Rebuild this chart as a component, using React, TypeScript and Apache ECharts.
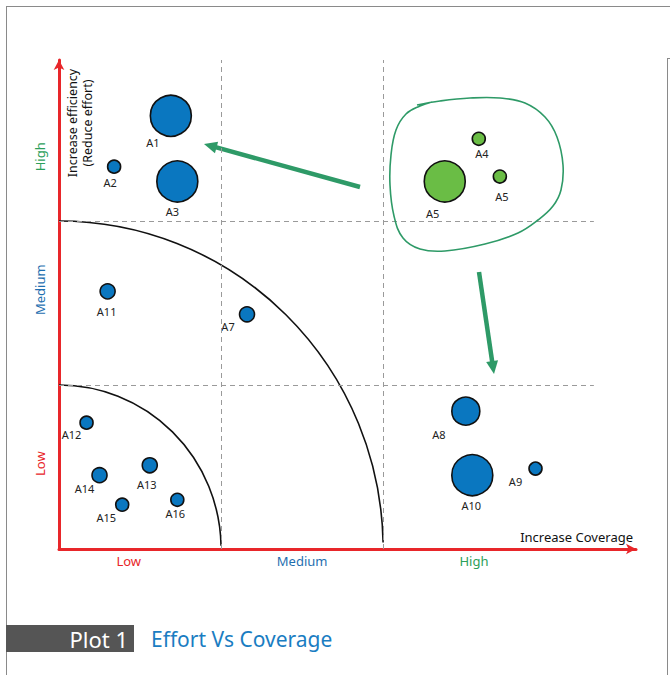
import React, { useEffect, useRef } from "react";
import * as echarts from "echarts";

// ---- data ----
const blueNames = ["A1", "A2", "A3", "A11", "A7", "A12", "A14", "A13", "A15", "A16", "A8", "A10", "A9"];
const blueCoverage = [0.69, 0.34, 0.73, 0.3, 1.16, 0.17, 0.25, 0.56, 0.39, 0.73, 2.51, 2.55, 2.94];
const blueEfficiency = [2.64, 2.33, 2.24, 1.57, 1.43, 0.77, 0.45, 0.51, 0.27, 0.3, 0.84, 0.45, 0.49];
const blueSize = [41, 13, 41, 15, 15, 13, 15, 15, 13, 13, 28, 41, 13];

const greenNames = ["A4", "A5", "A5"];
const greenCoverage = [2.59, 2.72, 2.38];
const greenEfficiency = [2.5, 2.27, 2.24];
const greenSize = [13, 13, 41];

const arcRadii = [1, 2];
const xBandLabels = ["Low", "Medium", "High"];
const xBandPos = [0.43, 1.5, 2.56];
const yBandLabels = ["High", "Medium", "Low"];
const yBandPos = [2.39, 1.58, 0.52];
const bandColors: Record<string, string> = { Low: "#e8262a", Medium: "#1f6fb0", High: "#2ca05a" };

// label offsets (layout only)
const blueLabelOffsets = [[-18, 27], [-4, 16], [-5, 30], [-1, 20], [-19, 12], [-15, 12], [-15, 13], [-3, 19], [-16, 13], [-2, 14], [-27, 23], [-1, 30], [-20, 13]];
const greenLabelOffsets = [[3, 15], [2, 20], [-12, 32]];

const FONT = "'Noto Sans', 'Open Sans', sans-serif";
const ARROW_GREEN = "#2e9a67";

function arrow(x1: number, y1: number, x2: number, y2: number) {
  const dx = x2 - x1, dy = y2 - y1;
  const len = Math.sqrt(dx * dx + dy * dy);
  const ux = dx / len, uy = dy / len;
  const hl = 13, hw = 6;
  const bx = x2 - ux * hl, by = y2 - uy * hl;
  const px = -uy * hw, py = ux * hw;
  return [
    { type: "line", silent: true, shape: { x1, y1, x2: bx + ux * 2, y2: by + uy * 2 }, style: { stroke: ARROW_GREEN, lineWidth: 4.5 } },
    { type: "polygon", silent: true, shape: { points: [[x2, y2], [bx + px, by + py], [bx - px, by - py]] }, style: { fill: ARROW_GREEN } },
  ];
}

function makeItems(names: string[], xs: number[], ys: number[], sizes: number[], offs: number[][]) {
  return names.map((n, i) => ({
    name: n,
    value: [xs[i], ys[i], sizes[i]],
    label: { offset: offs[i] },
  }));
}

export default function App() {
  const ref = useRef<HTMLDivElement>(null);
  useEffect(() => {
    if (!ref.current) return;
    const chart = echarts.init(ref.current, null, { renderer: "svg" });
    const labelCfg = {
      show: true,
      position: "inside",
      formatter: "{b}",
      color: "#222",
      fontSize: 11,
      fontFamily: FONT,
    };
    const option: any = {
      animation: false,
      grid: { left: 59, top: 60, width: 577, height: 489 },
      xAxis: {
        type: "value", min: 0, max: 3.56,
        axisLine: { show: true, onZero: false, symbol: ["none", "arrow"], symbolSize: [8, 10], lineStyle: { color: "#e8262a", width: 3 } },
        axisTick: { show: false }, axisLabel: { show: false }, splitLine: { show: false },
      },
      yAxis: {
        type: "value", min: 0, max: 2.98,
        axisLine: { show: true, onZero: false, symbol: ["none", "arrow"], symbolSize: [8, 10], lineStyle: { color: "#e8262a", width: 3 } },
        axisTick: { show: false }, axisLabel: { show: false }, splitLine: { show: false },
      },
      series: [
        {
          type: "custom",
          silent: true,
          clip: false,
          data: arcRadii.map((r) => [r, 0]),
          renderItem: (params: any, api: any) => {
            const r = api.value(0);
            const c = api.coord([0, 0]);
            const s = api.size([r, r]);
            return {
              type: "arc",
              x: c[0],
              y: c[1],
              scaleY: s[1] / s[0],
              shape: { cx: 0, cy: 0, r: s[0], startAngle: -Math.PI / 2, endAngle: -0.02, clockwise: true },
              style: { stroke: "#111", lineWidth: 1.6, fill: null, strokeNoScale: true },
            };
          },
          z: 1,
        },
        {
          type: "scatter",
          symbolSize: (v: number[]) => v[2],
          itemStyle: { color: "#0a77c0", borderColor: "#111", borderWidth: 1.6, opacity: 1 },
          label: labelCfg,
          data: makeItems(blueNames, blueCoverage, blueEfficiency, blueSize, blueLabelOffsets),
          z: 3,
          markLine: {
            silent: true,
            symbol: "none",
            label: { show: false },
            lineStyle: { color: "#9a9a9a", type: [5, 4], width: 1 },
            data: [
              { xAxis: 1 },
              { xAxis: 2 },
              [{ coord: [0, 1] }, { coord: [3.3, 1] }],
              [{ coord: [0, 2] }, { coord: [3.3, 2] }],
            ],
          },
        },
        {
          type: "scatter",
          symbolSize: (v: number[]) => v[2],
          itemStyle: { color: "#6abd45", borderColor: "#111", borderWidth: 1.6, opacity: 1 },
          label: labelCfg,
          data: makeItems(greenNames, greenCoverage, greenEfficiency, greenSize, greenLabelOffsets),
          z: 3,
        },
      ],
    };
    chart.setOption(option);

    const toPx = (x: number, y: number) => chart.convertToPixel({ gridIndex: 0 }, [x, y]) as number[];
    const graphics: any[] = [];
    // outer frame
    const frame = { stroke: "#8a8a8a", lineWidth: 1 };
    graphics.push({ type: "line", silent: true, shape: { x1: 6, y1: 6.5, x2: 670, y2: 6.5 }, style: frame });
    graphics.push({ type: "line", silent: true, shape: { x1: 6.5, y1: 6, x2: 6.5, y2: 675 }, style: frame });
    graphics.push({ type: "line", silent: true, shape: { x1: 667.5, y1: 58, x2: 667.5, y2: 675 }, style: frame });
    graphics.push({ type: "line", silent: true, shape: { x1: 667, y1: 58.5, x2: 670, y2: 58.5 }, style: frame });

    // band labels
    xBandLabels.forEach((t, i) => {
      const p = toPx(xBandPos[i], 0);
      graphics.push({ type: "text", silent: true, x: p[0], y: 561, style: { text: t, fill: bandColors[t], font: `13px ${FONT}`, align: "center", verticalAlign: "middle" } });
    });
    yBandLabels.forEach((t, i) => {
      const p = toPx(0, yBandPos[i]);
      graphics.push({ type: "text", silent: true, x: 40, y: p[1], rotation: Math.PI / 2, style: { text: t, fill: bandColors[t], font: `13px ${FONT}`, align: "center", verticalAlign: "middle" } });
    });
    // axis titles
    graphics.push({ type: "text", silent: true, x: 80, y: 123, rotation: Math.PI / 2, style: { text: "Increase efficiency\n(Reduce effort)", fill: "#111", font: `12.5px ${FONT}`, align: "center", verticalAlign: "middle", lineHeight: 15 } });
    graphics.push({ type: "text", silent: true, x: 633, y: 537, style: { text: "Increase Coverage", fill: "#111", font: `13px ${FONT}`, align: "right", verticalAlign: "middle" } });

    // green freehand cluster outline
    graphics.push({
      type: "polyline", silent: true, z: 5,
      shape: {
        smooth: 0.4,
        points: [[417, 105], [440, 101], [470, 98], [500, 98], [525, 103], [545, 117], [557, 137], [563, 165], [561, 190], [553, 206], [538, 220], [518, 233], [485, 244], [445, 251], [420, 249], [403, 238], [394, 216], [390, 185], [391, 155], [396, 130], [406, 114], [420, 106], [432, 102]],
      },
      style: { stroke: ARROW_GREEN, lineWidth: 1.6, fill: null },
    });
    // arrows
    graphics.push(...arrow(360, 187, 204, 144));
    graphics.push(...arrow(479, 272, 494, 374));

    // caption
    graphics.push({ type: "rect", silent: true, shape: { x: 6, y: 625, width: 128, height: 27 }, style: { fill: "#555" } });
    graphics.push({ type: "text", silent: true, x: 128, y: 639, style: { text: "Plot 1", fill: "#fff", font: `22px ${FONT}`, align: "right", verticalAlign: "middle" } });
    graphics.push({ type: "text", silent: true, x: 151, y: 639, style: { text: "Effort Vs Coverage", fill: "#1a7dc2", font: `21px ${FONT}`, align: "left", verticalAlign: "middle" } });

    chart.setOption({ graphic: { elements: graphics } });
    return () => chart.dispose();
  }, []);
  return <div ref={ref} style={{ position: "fixed", left: 0, top: 0, width: 670, height: 675, background: "#fff" }} />;
}
